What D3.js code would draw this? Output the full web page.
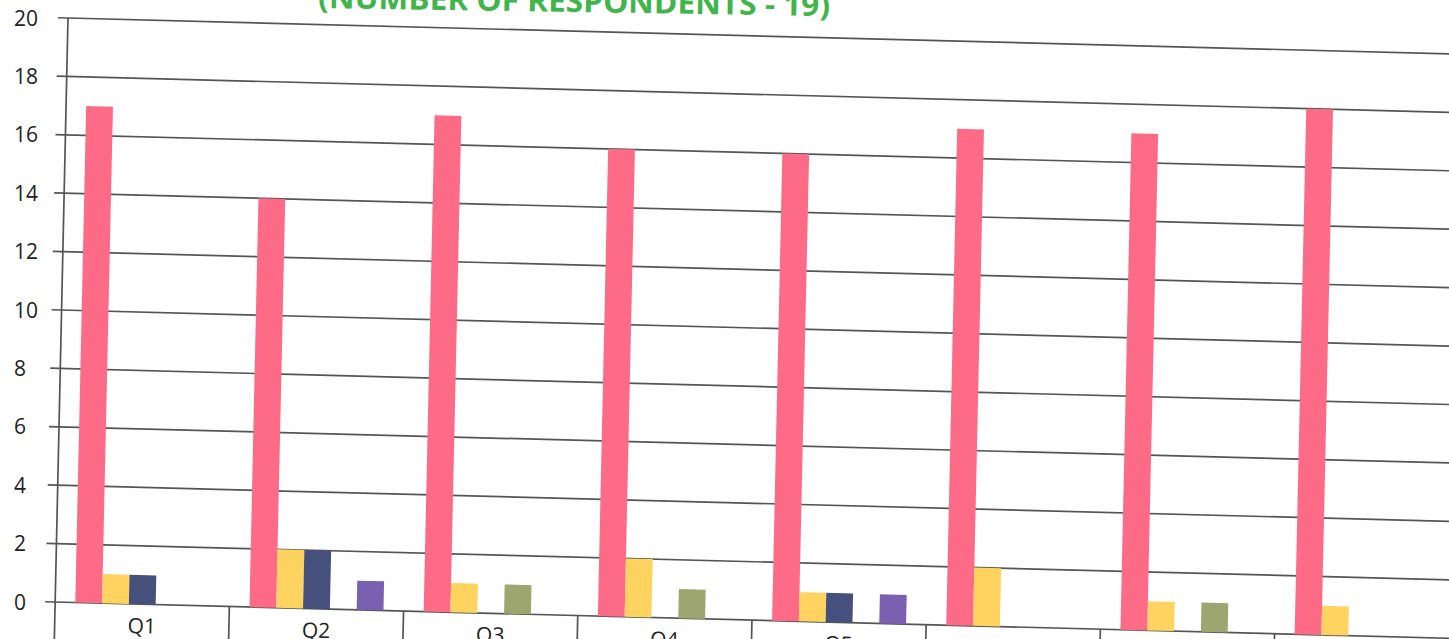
<!DOCTYPE html>
<html>
<head>
<meta charset="utf-8">
<script src="https://cdn.jsdelivr.net/npm/d3@7/dist/d3.min.js"></script>
<style>
  html, body { margin: 0; padding: 0; background: #fff; overflow: hidden; }
  svg { display: block; }
  text { font-family: "Open Sans", "Liberation Sans", sans-serif; }
</style>
</head>
<body>
<svg id="chart"></svg>
<script>
var categories = ["Q1", "Q2", "Q3", "Q4", "Q5", "Q6", "Q7", "Q8"];
var seriesNames = ["Series 1", "Series 2", "Series 3", "Series 4", "Series 5"];
var pinkValues = [17, 14, 17, 16, 16, 17, 17, 18];
var yellowValues = [1, 2, 1, 2, 1, 2, 1, 1];
var navyValues = [1, 2, 0, 0, 1, 0, 0, 0];
var greenValues = [0, 0, 1, 1, 0, 0, 1, 0];
var purpleValues = [0, 1, 0, 0, 1, 0, 0, 0];
var yTicks = [0, 2, 4, 6, 8, 10, 12, 14, 16, 18, 20];
var titleText = "(NUMBER OF RESPONDENTS - 19)";

var seriesValues = [pinkValues, yellowValues, navyValues, greenValues, purpleValues];
var colors = ["#fd6b87", "#ffd35f", "#45507c", "#9da66f", "#7b5fb1"];

var width = 1449,
    height = 639;

// the scan is slightly skewed: lines fall to the right, verticals lean left
var skewX = 0.026,
    skewY = -0.022,
    originX = 68,
    originY = 18;

var plotW = 8 * 174.2,
    plotH = 584;

var svg = d3.select("#chart")
    .attr("width", width)
    .attr("height", height);

var x0 = d3.scaleBand()
    .domain(categories)
    .range([0, plotW])
    .padding(0);

var x1 = d3.scaleBand()
    .domain(seriesNames)
    .range([0, x0.bandwidth()])
    .paddingInner(0)
    .paddingOuter(0.75);

var y = d3.scaleLinear()
    .domain([0, 20])
    .range([plotH, 0]);

var g = svg.append("g")
    .attr("transform", "matrix(1," + skewX + "," + skewY + ",1," + originX + "," + originY + ")");

var lineColor = "#555",
    lineWidth = 1.7;

// gridlines
g.append("g").selectAll("line")
    .data(yTicks)
    .enter()
    .append("line")
    .attr("x1", -10)
    .attr("x2", plotW + 20)
    .attr("y1", function(d) { return y(d); })
    .attr("y2", function(d) { return y(d); })
    .attr("stroke", lineColor)
    .attr("stroke-width", lineWidth);

// y axis line
g.append("line")
    .attr("x1", 0).attr("x2", 0)
    .attr("y1", 0).attr("y2", plotH + 45)
    .attr("stroke", lineColor)
    .attr("stroke-width", lineWidth);

// category separators
g.append("g").selectAll("line")
    .data(categories.slice(1))
    .enter()
    .append("line")
    .attr("x1", function(d) { return x0(d); })
    .attr("x2", function(d) { return x0(d); })
    .attr("y1", plotH)
    .attr("y2", plotH + 45)
    .attr("stroke", lineColor)
    .attr("stroke-width", lineWidth);

// bars
var rows = categories.map(function(c, i) {
    return seriesNames.map(function(s, j) {
        return { cat: c, name: s, value: seriesValues[j][i], color: colors[j] };
    });
});

g.append("g").selectAll("g")
    .data(rows)
    .enter()
    .append("g")
    .attr("transform", function(d) { return "translate(" + x0(d[0].cat) + ",0)"; })
    .selectAll("rect")
    .data(function(d) { return d.filter(function(e) { return e.value > 0; }); })
    .enter()
    .append("rect")
    .attr("x", function(d) { return x1(d.name); })
    .attr("width", x1.bandwidth())
    .attr("y", function(d) { return y(d.value); })
    .attr("height", function(d) { return plotH - y(d.value); })
    .attr("fill", function(d) { return d.color; });

// category labels
g.append("g").selectAll("text")
    .data(categories)
    .enter()
    .append("text")
    .attr("x", function(d) { return x0(d) + x0.bandwidth() / 2; })
    .attr("y", plotH + 29)
    .attr("text-anchor", "middle")
    .attr("font-size", 21)
    .attr("fill", "#222")
    .text(function(d) { return d; });

// y tick labels (not skewed in the scan)
svg.append("g").selectAll("text")
    .data(yTicks)
    .enter()
    .append("text")
    .attr("x", 14)
    .attr("y", function(d) { return originY - 0.5 + y(d); })
    .attr("dominant-baseline", "central")
    .attr("font-size", 21)
    .attr("fill", "#222")
    .text(function(d) { return d; });

// title, mostly cut off at the top of the scan
svg.append("text")
    .attr("x", 318)
    .attr("y", 12)
    .attr("transform", "rotate(0.9,574,10)")
    .attr("font-size", 30)
    .attr("font-weight", "bold")
    .attr("fill", "#3fb54b")
    .attr("textLength", 512)
    .attr("lengthAdjust", "spacingAndGlyphs")
    .text(titleText);
</script>
</body>
</html>
